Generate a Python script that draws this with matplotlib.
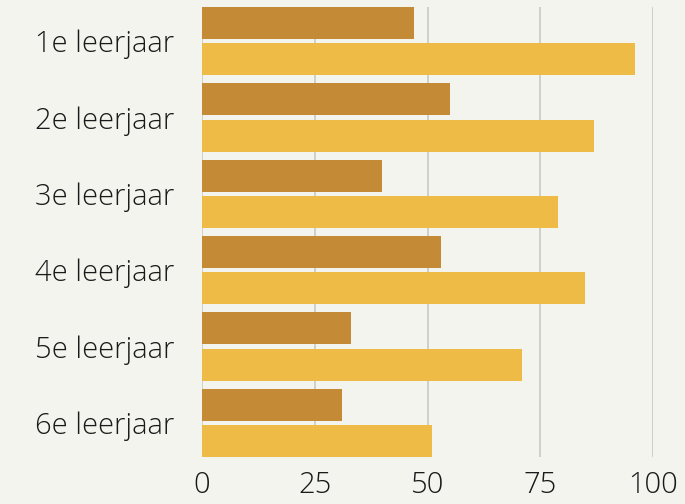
import matplotlib.pyplot as plt
import numpy as np

categories = ["1e leerjaar", "2e leerjaar", "3e leerjaar", "4e leerjaar", "5e leerjaar", "6e leerjaar"]
serie_donker = [47, 55, 40, 53, 33, 31]
serie_geel = [96, 87, 79, 85, 71, 51]
ticks = [0, 25, 50, 75, 100]

bg = "#f4f4ef"
plt.rcParams["font.family"] = ["Open Sans", "DejaVu Sans"]
plt.rcParams["font.weight"] = "light"

fig = plt.figure(figsize=(6.85, 5.04), dpi=100, facecolor=bg)
W, H = 685, 504
ax = fig.add_axes([202 / W, (H - 457) / H, (653 - 202) / W, 450 / H])
ax.set_facecolor(bg)

y = np.arange(len(categories))
h = 0.42
off = 0.237
ax.barh(y - off, serie_donker, height=h, color="#c58a35", zorder=3)
ax.barh(y + off, serie_geel, height=h, color="#efbb47", zorder=3)

ax.set_xlim(0, 100)
ax.set_ylim(len(categories) - 1 + 0.447, -0.447)
ax.set_xticks(ticks)
ax.set_xticklabels([str(t) for t in ticks], fontsize=21, color="#1a1a1a")
ax.set_yticks(y)
ax.set_yticklabels(categories, fontsize=21, color="#1a1a1a")
ax.tick_params(length=0)
ax.tick_params(axis="y", pad=20)
ax.tick_params(axis="x", pad=10)
ax.grid(axis="x", color="#c9c9c4", linewidth=1.2, zorder=0)
for s in ax.spines.values():
    s.set_visible(False)

fig.savefig("out.png", dpi=100, facecolor=bg)
